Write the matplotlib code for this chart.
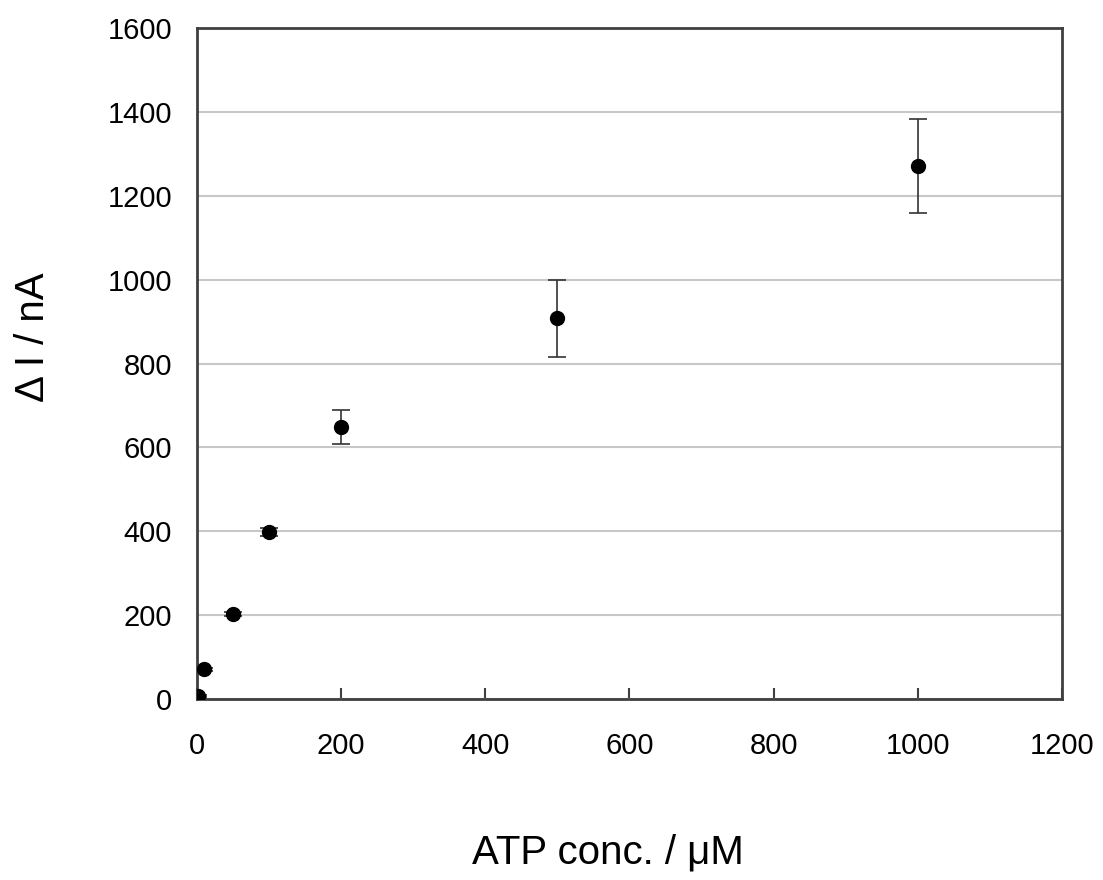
import matplotlib.pyplot as plt

plt.rcParams['font.family'] = ['Liberation Sans', 'DejaVu Sans']

conc = [1, 10, 50, 100, 200, 500, 1000]
delta_i = [7, 71, 203, 398, 648, 908, 1272]
err = [2, 4, 5, 9, 41, 92, 112]

fig = plt.figure(figsize=(11.03, 8.8), dpi=100)
ax = fig.add_axes([0.1786, 0.2057, 0.7842, 0.7623])

ax.errorbar(conc, delta_i, yerr=err, fmt='o', color='black', ms=10,
            ecolor='#333333', elinewidth=1.2, capsize=6.5, capthick=1.2, zorder=3)

ax.set_xlim(0, 1200)
ax.set_ylim(0, 1600)
ax.set_xticks(range(0, 1201, 200))
ax.set_yticks(range(0, 1601, 200))
ax.yaxis.grid(True, color='#c8c8c8', linewidth=1.5)
ax.set_axisbelow(True)

for s in ax.spines.values():
    s.set_color('#404040')
    s.set_linewidth(2)

ax.tick_params(axis='x', direction='in', length=8, width=1.5, color='#404040',
               labelsize=21, pad=24)
ax.tick_params(axis='y', length=0, labelsize=21, pad=18)

ax.set_xlabel('ATP conc. / μM', fontsize=29)
ax.set_ylabel('Δ I / nA', fontsize=29, labelpad=40)
ax.xaxis.set_label_coords(0.475, -0.2)
ax.yaxis.label.set_y(0.54)

fig.savefig('out.png', dpi=100)
